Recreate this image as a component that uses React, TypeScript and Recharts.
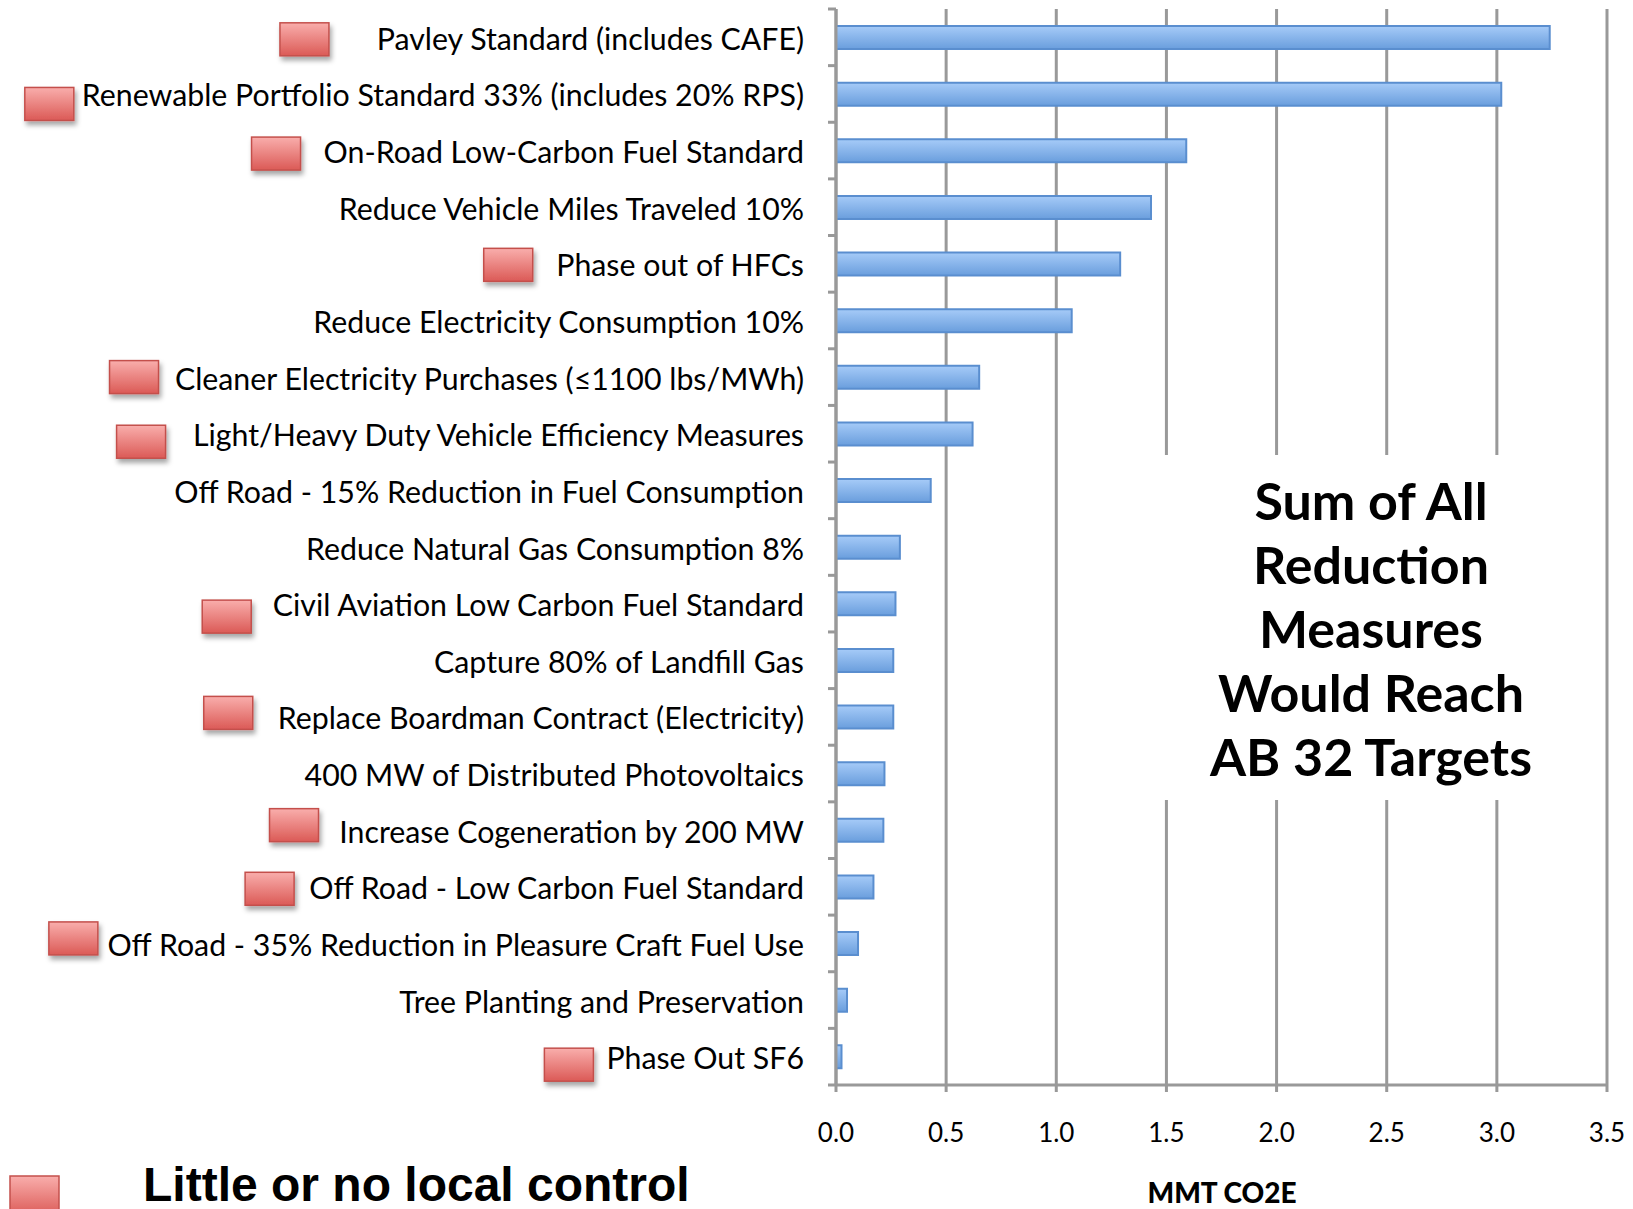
import React from "react";
import { BarChart, Bar, XAxis, YAxis, CartesianGrid } from "recharts";

// reduction measures, top to bottom
const measures = [
  "Pavley Standard (includes CAFE)",
  "Renewable Portfolio Standard 33% (includes 20% RPS)",
  "On-Road Low-Carbon Fuel Standard",
  "Reduce Vehicle Miles Traveled 10%",
  "Phase out of HFCs",
  "Reduce Electricity Consumption 10%",
  "Cleaner Electricity Purchases (\u22641100 lbs/MWh)",
  "Light/Heavy Duty Vehicle Efficiency Measures",
  "Off Road - 15% Reduction in Fuel Consumption",
  "Reduce Natural Gas Consumption 8%",
  "Civil Aviation Low Carbon Fuel Standard",
  "Capture 80% of Landfill Gas",
  "Replace Boardman Contract (Electricity)",
  "400 MW of Distributed Photovoltaics",
  "Increase Cogeneration by 200 MW",
  "Off Road - Low Carbon Fuel Standard",
  "Off Road - 35% Reduction in Pleasure Craft Fuel Use",
  "Tree Planting and Preservation",
  "Phase Out SF6",
];

// MMT CO2E
const reductions = [
  3.24, 3.02, 1.59, 1.43, 1.29, 1.07, 0.65, 0.62, 0.43, 0.29,
  0.27, 0.26, 0.26, 0.22, 0.215, 0.17, 0.1, 0.05, 0.025,
];

// red marker = little or no local control
const littleLocalControl = [
  true, true, true, false, true, false, true, true, false, false,
  true, false, true, false, true, true, true, false, true,
];

const xTicks = [0, 0.5, 1, 1.5, 2, 2.5, 3, 3.5];
const noteLines = ["Sum of All", "Reduction", "Measures", "Would Reach", "AB 32 Targets"];

const data = measures.map((name, i) => ({ name, value: reductions[i], flag: littleLocalControl[i] }));

// layout
const W = 1633;
const H = 1209;
const AXIS_X = 836;
const AXIS_Y = 1085;
const TOP = 9;
const RIGHT = 26;
const BAND = (AXIS_Y - TOP) / measures.length;
const GRID = "#999999";
const LABEL_FONT = "Lato, 'Open Sans', sans-serif";
const LABEL_SIZE = 30.3;

// hand-placed markers in the original: gap to the text and vertical nudge
const markerNudge: Record<number, [number, number]> = {
  0: [47, 2], 1: [8, 10], 2: [23, 3], 4: [23, 1], 6: [15, 0], 7: [24, 8],
  10: [20, 13], 12: [25, -4], 14: [20, -5], 15: [14, 2], 16: [9, -5], 18: [13, 8],
};

let ctx: CanvasRenderingContext2D | null = null;
function textWidth(s: string, font: string) {
  if (!ctx) ctx = document.createElement("canvas").getContext("2d");
  if (!ctx) return s.length * 14;
  ctx.font = font;
  return ctx.measureText(s).width;
}

const Marker = ({ x, y }: { x: number; y: number }) => (
  <rect x={x} y={y} width={49} height={33} fill="url(#markerGrad)" stroke="#c4504c" strokeWidth={1.5} filter="url(#markerShadow)" />
);

const CategoryTick = (props: any) => {
  const { y, payload, index } = props;
  const label: string = payload.value;
  const i = measures.indexOf(label);
  const right = AXIS_X - 32;
  let marker = null;
  if (littleLocalControl[i]) {
    const w = textWidth(label, `${LABEL_SIZE}px Lato`);
    const [gap, dy] = markerNudge[i] || [18, 0];
    marker = <Marker x={right - w - gap - 49} y={y - 16.5 + dy} />;
  }
  return (
    <g>
      <line x1={AXIS_X - 8} x2={AXIS_X} y1={y - BAND / 2} y2={y - BAND / 2} stroke={GRID} strokeWidth={3} />
      {index === measures.length - 1 && (
        <line x1={AXIS_X - 8} x2={AXIS_X} y1={y + BAND / 2} y2={y + BAND / 2} stroke={GRID} strokeWidth={3} />
      )}
      <text x={right} y={y + 12.5} textAnchor="end" fontFamily={LABEL_FONT} fontSize={LABEL_SIZE} fill="#000">
        {label}
      </text>
      {marker}
    </g>
  );
};

const ValueTick = (props: any) => {
  const { x, payload } = props;
  return (
    <text x={x} y={AXIS_Y + 57} textAnchor="middle" fontFamily={LABEL_FONT} fontSize={26} fill="#000">
      {Number(payload.value).toFixed(1)}
    </text>
  );
};

export default function App() {
  return (
    <div style={{ position: "absolute", left: 0, top: 0, width: W, height: H, background: "#fff" }}>
      <BarChart
        width={W}
        height={H}
        data={data}
        layout="vertical"
        margin={{ top: TOP, right: RIGHT, left: 0, bottom: 0 }}
      >
        <defs>
          <linearGradient id="barGrad" x1="0" y1="0" x2="0" y2="1">
            <stop offset="0%" stopColor="#a6cbf8" />
            <stop offset="100%" stopColor="#6a9edd" />
          </linearGradient>
          <linearGradient id="markerGrad" x1="0" y1="0" x2="0" y2="1">
            <stop offset="0%" stopColor="#f9aeac" />
            <stop offset="100%" stopColor="#db5a56" />
          </linearGradient>
          <filter id="markerShadow" x="-20%" y="-20%" width="150%" height="160%">
            <feDropShadow dx="2" dy="4" stdDeviation="2.5" floodColor="#000" floodOpacity="0.35" />
          </filter>
        </defs>
        <CartesianGrid horizontal={false} stroke={GRID} strokeWidth={3} />
        <XAxis
          type="number"
          domain={[0, 3.5]}
          ticks={xTicks}
          height={H - AXIS_Y}
          axisLine={{ stroke: GRID, strokeWidth: 3 }}
          tickLine={{ stroke: GRID, strokeWidth: 3 }}
          tickSize={7}
          tick={<ValueTick />}
        />
        <YAxis
          type="category"
          dataKey="name"
          width={AXIS_X}
          interval={0}
          axisLine={{ stroke: GRID, strokeWidth: 3 }}
          tickLine={false}
          tick={<CategoryTick />}
        />
        <Bar
          dataKey="value"
          fill="url(#barGrad)"
          stroke="#5a8ecf"
          strokeWidth={2}
          barSize={23}
          isAnimationActive={false}
        />
      </BarChart>
      <svg width={W} height={H} style={{ position: "absolute", left: 0, top: 0, pointerEvents: "none" }}>
        <defs>
          <linearGradient id="legendGrad" x1="0" y1="0" x2="0" y2="1">
            <stop offset="0%" stopColor="#f9aeac" />
            <stop offset="100%" stopColor="#db5a56" />
          </linearGradient>
        </defs>
        <rect x={1161} y={455} width={427} height={345} fill="#fff" />
        {noteLines.map((line, i) => (
          <text
            key={line}
            x={1371}
            y={520 + i * 64}
            textAnchor="middle"
            fontFamily={LABEL_FONT}
            fontWeight={700}
            fontSize={52}
            fill="#000"
          >
            {line}
          </text>
        ))}
        <text x={1222} y={1203} textAnchor="middle" fontFamily={LABEL_FONT} fontWeight={900} fontSize={28} fill="#000">
          MMT CO2E
        </text>
        <rect x={10} y={1176} width={49} height={40} fill="url(#legendGrad)" stroke="#c4504c" strokeWidth={1.5} />
        <text x={143} y={1201} fontFamily="'Liberation Sans', Arial, sans-serif" fontWeight={700} fontSize={48} fill="#000">
          Little or no local control
        </text>
      </svg>
    </div>
  );
}
